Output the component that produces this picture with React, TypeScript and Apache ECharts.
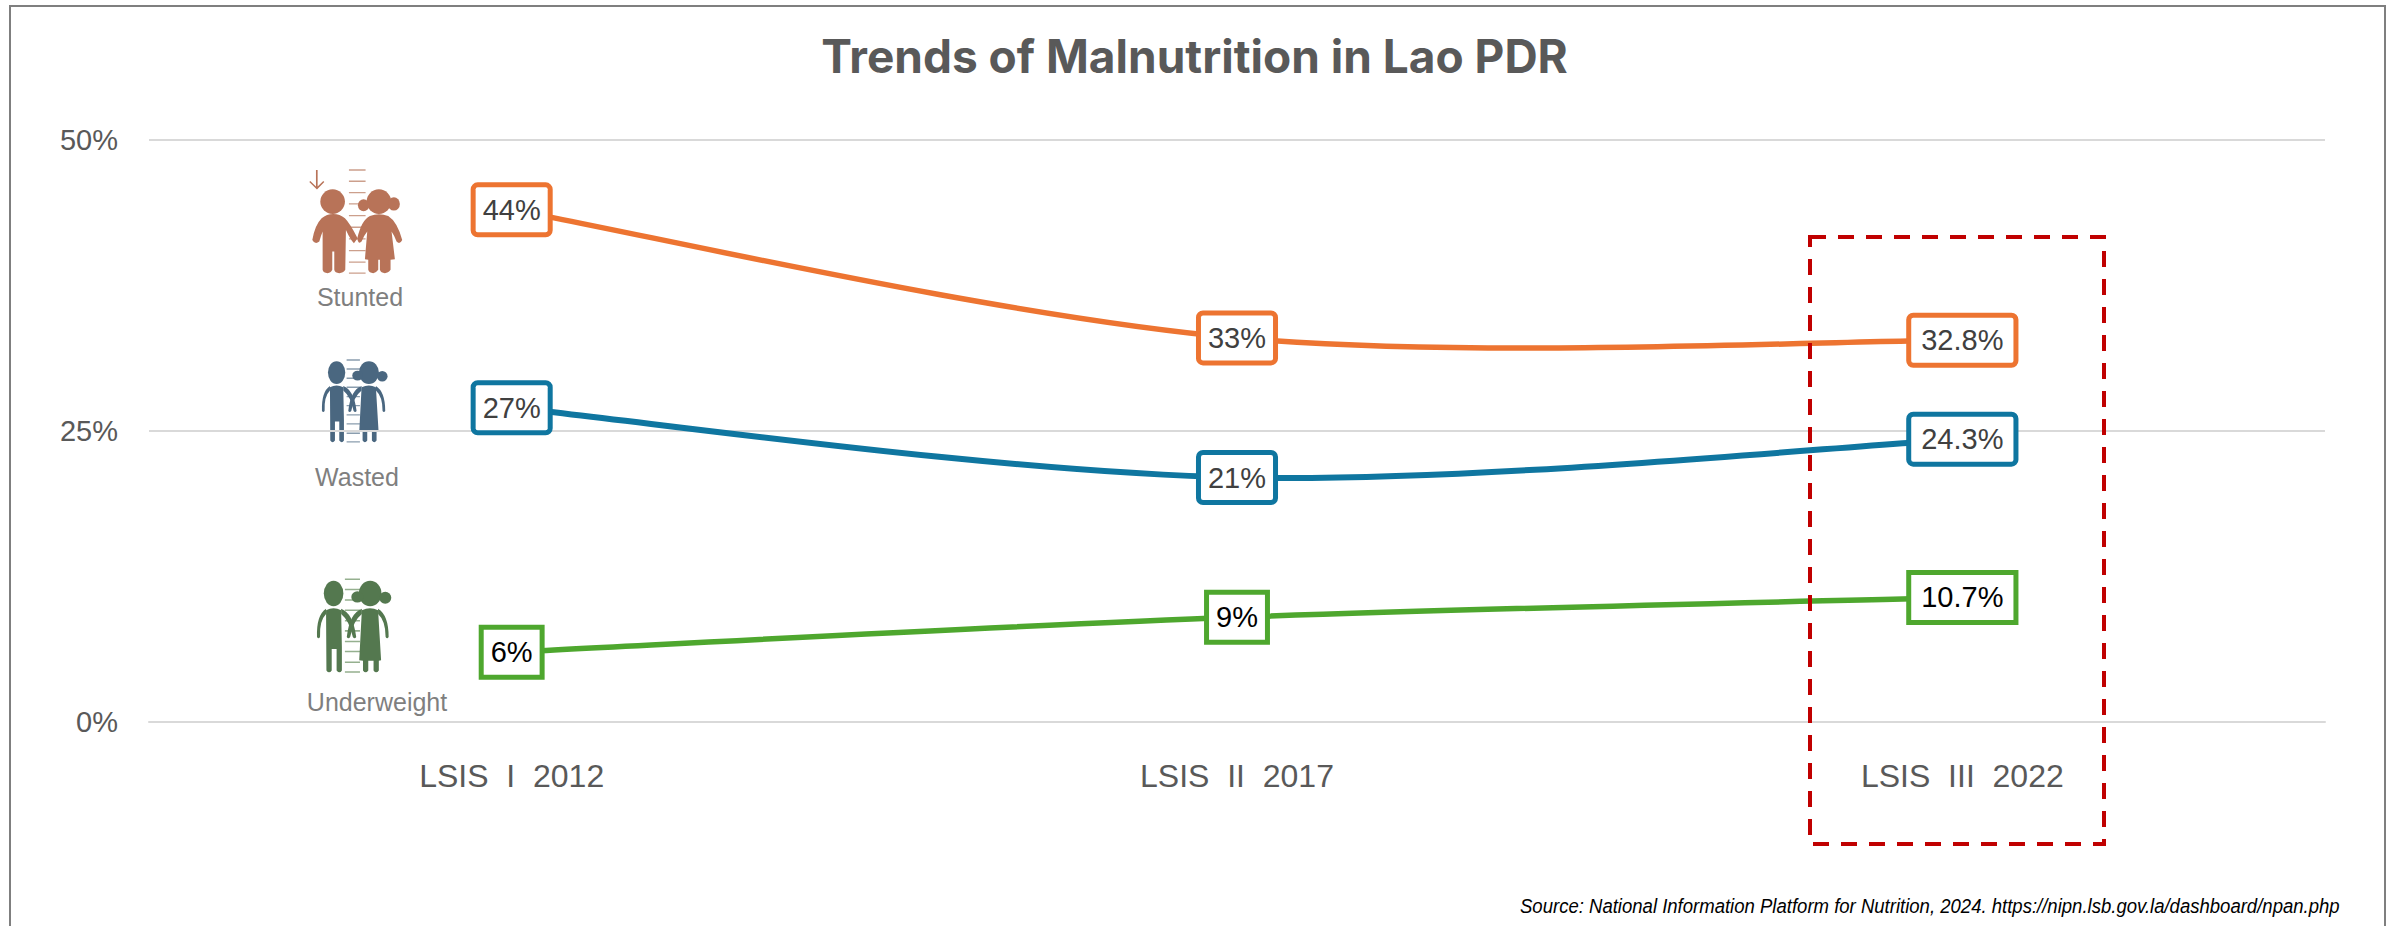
import React, { useEffect, useRef } from "react";
import * as echarts from "echarts";

const categories = ["LSIS  I  2012", "LSIS  II  2017", "LSIS  III  2022"];
const stunted = [44, 33, 32.8];
const wasted = [27, 21, 24.3];
const underweight = [6, 9, 10.7];
const stuntedLabels = ["44%", "33%", "32.8%"];
const wastedLabels = ["27%", "21%", "24.3%"];
const underweightLabels = ["6%", "9%", "10.7%"];
const yTicks = [0, 25, 50];

const circle = (cx: number, cy: number, rx: number, ry = rx) =>
  `M${cx - rx} ${cy}a${rx} ${ry} 0 1 0 ${2 * rx} 0a${rx} ${ry} 0 1 0 ${-2 * rx} 0z`;

const chubbyParts = [
  circle(158, 215, 37),
  circle(297, 215, 37),
  circle(251, 226, 17, 18),
  circle(342, 222, 18, 20),
  "M125 265Q140 252 160 252Q180 252 195 265Q210 280 233 325L222 340Q212 330 198 300L196 420Q190 430 178 430Q165 430 163 420L163 365L157 365L157 420Q152 430 143 430Q130 430 128 420L128 305Q122 320 118 335Q105 345 97 330Q105 285 125 265Z",
  "M232 325Q245 270 270 258Q297 248 325 258Q352 275 367 330Q360 345 350 335Q345 320 335 305L345 388L332 390L332 420Q325 430 315 430Q303 430 300 420L300 390L295 390L295 420Q288 430 280 430Q268 430 265 420L265 390L255 388L262 305Q250 320 245 335Q235 345 232 325Z",
  "M108 120h5v50l17-17 3 3-22 23-23-23 3-3 17 17z",
];

const chubbyRuler = [118, 152, 186, 220, 255, 290, 325, 360, 395, 428]
  .map((y) => `M207 ${y}h50v4h-50z`)
  .join("");

const thinParts = [
  circle(170, 128, 26, 34),
  circle(267, 128, 30, 34),
  circle(233, 137, 16, 15),
  circle(307, 139, 16, 16),
  "M150 172Q170 162 190 172L192 270L192 332Q186 342 178 332L178 275L165 275L165 332Q158 342 151 332Z",
  "M150 168Q124 185 126 243Q130 250 134 243Q132 200 150 182Z",
  "M190 168Q222 180 230 243Q226 250 221 243Q212 200 190 182Z",
  "M245 172Q267 162 288 172L296 305L290 306L290 332Q283 342 276 332L276 306L262 306L262 332Q255 342 248 332L248 306L238 305Z",
  "M245 168Q212 180 205 243Q209 250 214 243Q222 200 245 182Z",
  "M288 168Q316 185 316 243Q312 250 308 243Q308 200 288 182Z",
];

const thinRuler = [88, 115, 143, 170, 198, 225, 253, 280, 308, 334]
  .map((y) => `M200 ${y}h40v4h-40z`)
  .join("");

chubbyParts.forEach((d, i) =>
  echarts.graphic.registerShape(`chubby${i}`, echarts.graphic.extendPath(d, {}))
);
thinParts.forEach((d, i) =>
  echarts.graphic.registerShape(`thin${i}`, echarts.graphic.extendPath(d, {}))
);
echarts.graphic.registerShape("chubbyRuler", echarts.graphic.extendPath(chubbyRuler, {}));
echarts.graphic.registerShape("thinRuler", echarts.graphic.extendPath(thinRuler, {}));

const LINE_FONT = "'Liberation Sans', Arial, sans-serif";

const iconShapes = (
  prefix: string,
  parts: string[],
  x: number,
  y: number,
  scale: number,
  fill: string,
  rulerFill: string
) => [
  { type: `${prefix}Ruler`, x, y, scaleX: scale, scaleY: scale, silent: true, style: { fill: rulerFill } },
  ...parts.map((_, i) => ({
    type: `${prefix}${i}`,
    x,
    y,
    scaleX: scale,
    scaleY: scale,
    silent: true,
    style: { fill },
  })),
];

// Spline drawn through the axis scales: each segment's control points come from its neighbours.
const splineSeries = (name: string, values: number[], color: string, lineWidth: number) => ({
  name: name + " spline",
  type: "custom",
  z: 1,
  clip: false,
  silent: true,
  data: values.map((v, i) => [i, v]),
  encode: { x: 0, y: 1 },
  renderItem: (params: any, api: any) => {
    const i = params.dataIndex;
    if (i >= values.length - 1) return null;
    const pt = (k: number) => {
      const j = Math.max(0, Math.min(values.length - 1, k));
      return api.coord([j, values[j]]);
    };
    const p0 = pt(i - 1);
    const p1 = pt(i);
    const p2 = pt(i + 1);
    const p3 = pt(i + 2);
    return {
      type: "bezierCurve",
      shape: {
        x1: p1[0],
        y1: p1[1],
        x2: p2[0],
        y2: p2[1],
        cpx1: p1[0] + (p2[0] - p0[0]) / 6,
        cpy1: p1[1] + (p2[1] - p0[1]) / 6,
        cpx2: p2[0] - (p3[0] - p1[0]) / 6,
        cpy2: p2[1] - (p3[1] - p1[1]) / 6,
      },
      style: { fill: "none", stroke: color, lineWidth, lineCap: "round" },
    };
  },
});

const labelSeries = (
  name: string,
  data: number[],
  labels: string[],
  color: string,
  textColor: string,
  radius: number
) => ({
  name,
  type: "line",
  z: 3,
  data: data.map((value, i) => ({
    value,
    label: { padding: labels[i].length > 3 ? [8, 10] : [8, 7] },
  })),
  symbol: "circle",
  symbolSize: 1,
  showSymbol: true,
  showAllSymbol: true,
  lineStyle: { opacity: 0, width: 0 },
  itemStyle: { color },
  label: {
    show: true,
    position: "inside",
    formatter: (p: any) => labels[p.dataIndex],
    fontFamily: LINE_FONT,
    fontSize: 29,
    lineHeight: 29,
    color: textColor,
    backgroundColor: "#ffffff",
    borderColor: color,
    borderWidth: 5,
    borderRadius: radius,
  },
});

const iconLabel = (text: string, x: number, y: number) => ({
  type: "text",
  x,
  y,
  style: {
    text,
    fontFamily: LINE_FONT,
    fontSize: 25,
    fill: "#7f7f7f",
    align: "center",
    verticalAlign: "middle",
  },
});

export default function App() {
  const ref = useRef<HTMLDivElement>(null);
  useEffect(() => {
    document.body.style.margin = "0";
    document.body.style.background = "#ffffff";
    const chart = echarts.init(ref.current!, undefined, { renderer: "svg" });
    const ICON = 1 / 3;
    const THIN = 1.13 / 3;
    chart.setOption({
      animation: false,
      backgroundColor: "#ffffff",
      title: {
        text: "Trends of Malnutrition in Lao PDR",
        left: "center",
        top: 28,
        textStyle: {
          fontFamily: "Inter, 'Open Sans', sans-serif",
          fontWeight: 700,
          fontSize: 46,
          color: "#595959",
        },
      },
      grid: { left: 149, right: 64, top: 140, height: 582 },
      xAxis: {
        type: "category",
        data: categories,
        boundaryGap: true,
        axisTick: { show: false },
        axisLine: { lineStyle: { color: "#d9d9d9", width: 2 } },
        axisLabel: {
          margin: 38,
          fontFamily: LINE_FONT,
          fontSize: 32,
          color: "#595959",
        },
      },
      yAxis: {
        type: "value",
        min: 0,
        max: 50,
        interval: 25,
        axisLine: { show: false },
        axisTick: { show: false },
        splitLine: { lineStyle: { color: "#d9d9d9", width: 2 } },
        axisLabel: {
          margin: 31,
          fontFamily: LINE_FONT,
          fontSize: 29,
          color: "#595959",
          formatter: (v: number) => (yTicks.includes(v) ? `${v}%` : ""),
        },
      },
      series: [
        splineSeries("Stunted", stunted, "#ED7431", 5.5),
        splineSeries("Wasted", wasted, "#0F76A0", 6),
        splineSeries("Underweight", underweight, "#4EA72E", 5.5),
        labelSeries("Stunted", stunted, stuntedLabels, "#ED7431", "#404040", 2),
        labelSeries("Wasted", wasted, wastedLabels, "#0F76A0", "#404040", 2),
        labelSeries("Underweight", underweight, underweightLabels, "#4EA72E", "#000000", 0),
      ],
      graphic: [
        {
          type: "rect",
          z: 0,
          silent: true,
          shape: { x: 10, y: 6, width: 2375, height: 1000 },
          style: { fill: "none", stroke: "#7f7f7f", lineWidth: 2 },
        },
        {
          type: "rect",
          z: 100,
          silent: true,
          shape: { x: 1810, y: 237, width: 294, height: 607 },
          style: { fill: "none", stroke: "#C00000", lineWidth: 4, lineDash: [16, 12] },
        },
        ...iconShapes("chubby", chubbyParts, 280, 130, ICON, "#B87358", "#CC9F8C"),
        ...iconShapes("thin", thinParts, 280, 330, ICON, "#4A6780", "#8A9DAE"),
        ...iconShapes("thin", thinParts, 269.5, 545.3, THIN, "#54784F", "#95B08F"),
        iconLabel("Stunted", 360, 297),
        iconLabel("Wasted", 357, 477),
        iconLabel("Underweight", 377, 702),
        {
          type: "text",
          x: 1520,
          y: 906,
          scaleX: 0.883,
          style: {
            text: "Source: National Information Platform for Nutrition, 2024. https://nipn.lsb.gov.la/dashboard/npan.php",
            fontFamily: LINE_FONT,
            fontStyle: "italic",
            fontSize: 21,
            fill: "#000000",
            verticalAlign: "middle",
          },
        },
      ],
    });
    return () => chart.dispose();
  }, []);
  return <div ref={ref} style={{ position: "absolute", left: 0, top: 0, width: 2389, height: 926 }} />;
}
